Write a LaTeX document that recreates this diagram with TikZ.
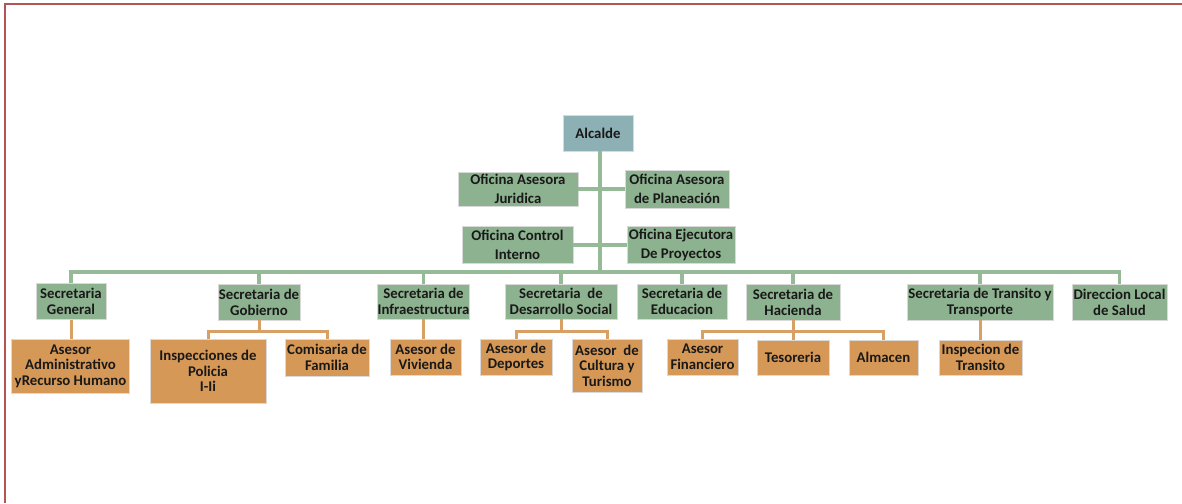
\documentclass[tikz,border=0pt]{standalone}
\usepackage{fontspec}
\setmainfont{Carlito}
\definecolor{gfill}{RGB}{141,178,143}
\definecolor{gline}{RGB}{150,186,152}
\definecolor{ofill}{RGB}{214,152,86}
\definecolor{oline}{RGB}{216,160,100}
\definecolor{afill}{RGB}{140,176,180}
\definecolor{frame}{RGB}{178,84,84}
\definecolor{txt}{RGB}{25,25,25}
\tikzset{
  bx/.style={rectangle, align=center, inner sep=0pt, text=txt,
    font=\fontsize{14.8}{16}\selectfont\bfseries, draw=white!70!gray, line width=0.8pt},
  gbox/.style={bx, fill=gfill},
  obox/.style={bx, fill=ofill, font=\fontsize{14.8}{15.5}\selectfont\bfseries},
  abox/.style={bx, fill=afill},
  ofi/.style={gbox, font=\fontsize{14.8}{19}\selectfont\bfseries},
  gcon/.style={draw=gline, line width=3.2pt},
  ocon/.style={draw=oline, line width=3pt},
}
\begin{document}
\begin{tikzpicture}[x=1pt,y=-1pt]
\useasboundingbox (0,0) rectangle (1182,503);
\fill[white] (0,0) rectangle (1182,503);
% frame
\draw[frame, line width=2.6pt] (5,503) -- (5,4) -- (1182,4);

% nodes
\node[abox, minimum width=70pt, minimum height=36pt] (alc) at (598,133) {Alcalde};
\node[ofi, minimum width=120pt, minimum height=34pt] (ojur) at (518,189) {Oficina Asesora\\Juridica};
\node[ofi, minimum width=104pt, minimum height=38pt] (opla) at (677,189) {Oficina Asesora\\de Planeación};
\node[ofi, minimum width=111pt, minimum height=37pt] (oci) at (517.5,245) {Oficina Control\\Interno};
\node[ofi, minimum width=108pt, minimum height=37pt] (oep) at (681,245) {Oficina Ejecutora\\De Proyectos};

\node[gbox, minimum width=70pt, minimum height=36pt] (sg) at (71,301.5) {Secretaria\\General};
\node[gbox, minimum width=82pt, minimum height=36pt] (sgob) at (259,302) {Secretaria de\\Gobierno};
\node[gbox, minimum width=91pt, minimum height=35pt] (sinf) at (423.5,301.5) {Secretaria de\\Infraestructura};
\node[gbox, minimum width=112pt, minimum height=35pt] (sds) at (561,301.5) {Secretaria\ \ de\\Desarrollo Social};
\node[gbox, minimum width=90pt, minimum height=35pt] (sed) at (682,301.5) {Secretaria de\\Educacion};
\node[gbox, minimum width=94pt, minimum height=36pt] (shac) at (793,302) {Secretaria de\\Hacienda};
\node[gbox, minimum width=146pt, minimum height=36pt] (stt) at (980,302) {Secretaria de Transito y\\Transporte};
\node[gbox, minimum width=95pt, minimum height=36pt] (dls) at (1119.5,302) {Direccion Local\\de Salud};

\node[obox, minimum width=118pt, minimum height=54pt] (aadm) at (70.5,366) {Asesor\\Administrativo\\yRecurso Humano};
\node[obox, minimum width=116pt, minimum height=64pt] (ipol) at (208,371) {Inspecciones de\\Policia\\I-Ii};
\node[obox, minimum width=84pt, minimum height=37pt] (cfam) at (327,357.5) {Comisaria de\\Familia};
\node[obox, minimum width=71pt, minimum height=36pt] (aviv) at (425.5,357) {Asesor de\\Vivienda};
\node[obox, minimum width=72pt, minimum height=36pt] (adep) at (516,357) {Asesor de\\Deportes};
\node[obox, minimum width=70pt, minimum height=53pt] (acul) at (607,365.5) {Asesor\ \ de\\Cultura y\\Turismo};
\node[obox, minimum width=71pt, minimum height=36pt] (afin) at (702.5,357) {Asesor\\Financiero};
\node[obox, minimum width=72pt, minimum height=35pt] (tes) at (793,357.5) {Tesoreria};
\node[obox, minimum width=69pt, minimum height=35pt] (alm) at (883.5,357.5) {Almacen};
\node[obox, minimum width=83pt, minimum height=35pt] (itr) at (980.5,357.5) {Inspecion de\\Transito};

% green connectors
\coordinate (t) at (600,272);
\draw[gcon] (alc.south -| t) -- (t);
\draw[gcon] (ojur.east) -- (opla.west);
\draw[gcon] (oci.east) -- (oep.west);
\draw[gcon] (sg.north) -- (sg.north |- t) -- (dls.north |- t) -- (dls.north);
\foreach \n in {sgob,sinf,sds,sed,shac,stt}
  \draw[gcon] (\n.north) -- (\n.north |- t);

% orange connectors
\coordinate (ob) at (0,331);
\draw[ocon] (sg.south) -- (sg.south |- aadm.north);
\draw[ocon] (ipol.north) -- (ipol.north |- ob) -- (cfam.north |- ob) -- (cfam.north);
\draw[ocon] (sgob.south) -- (sgob.south |- ob);
\draw[ocon] (sinf.south) -- (sinf.south |- aviv.north);
\draw[ocon] (adep.north) -- (adep.north |- ob) -- (acul.north |- ob) -- (acul.north);
\draw[ocon] (sds.south) -- (sds.south |- ob);
\draw[ocon] (afin.north) -- (afin.north |- ob) -- (alm.north |- ob) -- (alm.north);
\draw[ocon] (shac.south) -- (shac.south |- tes.north);
\draw[ocon] (stt.south) -- (stt.south |- itr.north);
\end{tikzpicture}
\end{document}
